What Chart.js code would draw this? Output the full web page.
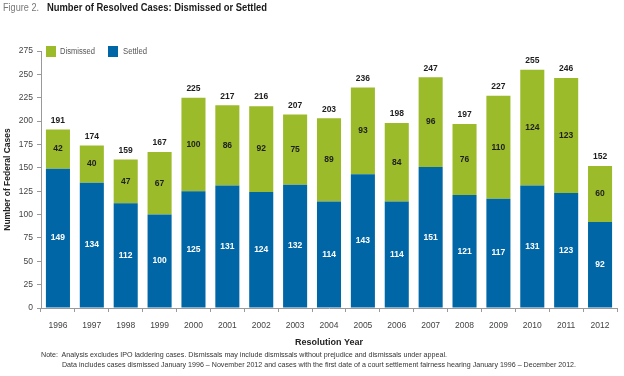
<!DOCTYPE html>
<html>
<head>
<meta charset="utf-8">
<script src="https://cdn.jsdelivr.net/npm/chart.js@4/dist/chart.umd.min.js"></script>
<style>
  html, body { margin: 0; padding: 0; background: #fff; }
  #wrap { position: relative; width: 624px; height: 376px; overflow: hidden; font-family: "Liberation Sans", Arial, sans-serif; }
  #c { position: absolute; left: 0; top: 0; }
  .t { position: absolute; white-space: nowrap; transform-origin: 0 50%; line-height: 1; }
  .sw { position: absolute; width: 10px; height: 11px; }
</style>
</head>
<body>
<div id="wrap">
  <canvas id="c" width="624" height="376"></canvas>
  <div class="t" data-w="36" style="left:3px;top:2px;font-size:10.5px;color:#777;">Figure 2.</div>
  <div class="t" data-w="220" style="left:47px;top:2px;font-size:10.5px;font-weight:bold;color:#1a1a1a;">Number of Resolved Cases: Dismissed or Settled</div>
  <div class="sw" style="left:46px;top:46px;background:#9bbb2a;"></div>
  <div class="t" data-w="35" style="left:60px;top:47px;font-size:8.5px;color:#555;">Dismissed</div>
  <div class="sw" style="left:108px;top:46px;background:#0066a6;"></div>
  <div class="t" data-w="24" style="left:123px;top:47px;font-size:8.5px;color:#555;">Settled</div>
  <div class="t" data-w="406" style="left:41px;top:351px;font-size:8px;color:#333;">Note:&nbsp; Analysis excludes IPO laddering cases. Dismissals may include dismissals without prejudice and dismissals under appeal.</div>
  <div class="t" data-w="514" style="left:62px;top:361px;font-size:8px;color:#333;">Data includes cases dismissed January 1996 – November 2012 and cases with the first date of a court settlement fairness hearing January 1996 – December 2012.</div>
</div>
<script>
const years = ['1996','1997','1998','1999','2000','2001','2002','2003','2004','2005','2006','2007','2008','2009','2010','2011','2012'];
const settled = [149,134,112,100,125,131,124,132,114,143,114,151,121,117,131,123,92];
const dismissed = [42,40,47,67,100,86,92,75,89,93,84,96,76,110,124,123,60];
const totals = [191,174,159,167,225,217,216,207,203,236,198,247,197,227,255,246,152];
const yMax = 275;
const yStep = 25;

document.querySelectorAll('.t[data-w]').forEach(el => {
  const w = parseFloat(el.dataset.w);
  const a = el.getBoundingClientRect().width;
  if (a > 0) el.style.transform = 'scaleX(' + (w / a) + ')';
});

const FONT = '"Liberation Sans", Arial, sans-serif';

const labelPlugin = {
  id: 'valueLabels',
  afterDatasetsDraw(chart) {
    const ctx = chart.ctx;
    ctx.save();
    ctx.font = 'bold 8.5px ' + FONT;
    ctx.textAlign = 'center';
    ctx.textBaseline = 'middle';
    const mS = chart.getDatasetMeta(0);
    const mD = chart.getDatasetMeta(1);
    mS.data.forEach((el, i) => {
      ctx.fillStyle = '#ffffff';
      ctx.fillText(String(settled[i]), el.x, (el.y + el.base) / 2);
    });
    mD.data.forEach((el, i) => {
      ctx.fillStyle = '#1e1e1e';
      ctx.fillText(String(dismissed[i]), el.x, (el.y + el.base) / 2);
      ctx.fillText(String(totals[i]), el.x, el.y - 9);
    });
    ctx.restore();
  }
};

new Chart(document.getElementById('c'), {
  type: 'bar',
  data: {
    labels: years,
    datasets: [
      { label: 'Settled', data: settled, backgroundColor: '#0066a6', borderWidth: 0, barPercentage: 0.71, categoryPercentage: 1.0 },
      { label: 'Dismissed', data: dismissed, backgroundColor: '#9bbb2a', borderWidth: 0, barPercentage: 0.71, categoryPercentage: 1.0 }
    ]
  },
  options: {
    responsive: false,
    animation: false,
    events: [],
    layout: { padding: { left: 0, right: 7, top: 51, bottom: 27 } },
    plugins: { legend: { display: false }, tooltip: { enabled: false }, title: { display: false } },
    scales: {
      x: {
        stacked: true,
        grid: { display: true, drawOnChartArea: false, drawTicks: true, tickLength: 4, color: '#999', offset: true },
        border: { display: true, color: '#999', width: 1 },
        ticks: { color: '#444', font: { family: FONT, size: 8.5 }, padding: 9, maxRotation: 0, autoSkip: false },
        title: { display: true, text: 'Resolution Year', color: '#222', font: { family: FONT, size: 9, weight: 'bold' }, padding: { top: 2, bottom: 1 } },
        afterFit(scale) { scale.height = 41; }
      },
      y: {
        stacked: true,
        min: 0,
        max: yMax,
        grid: { display: true, drawOnChartArea: false, drawTicks: true, tickLength: 4, color: '#999' },
        border: { display: true, color: '#999', width: 1 },
        ticks: { stepSize: yStep, color: '#444', font: { family: FONT, size: 8.5 }, padding: 4 },
        title: { display: true, text: 'Number of Federal Cases', color: '#222', font: { family: FONT, size: 8.5, weight: 'bold' }, padding: { top: 3, bottom: 0 } },
        afterFit(scale) { scale.width = 41; }
      }
    }
  },
  plugins: [labelPlugin]
});
</script>
</body>
</html>
